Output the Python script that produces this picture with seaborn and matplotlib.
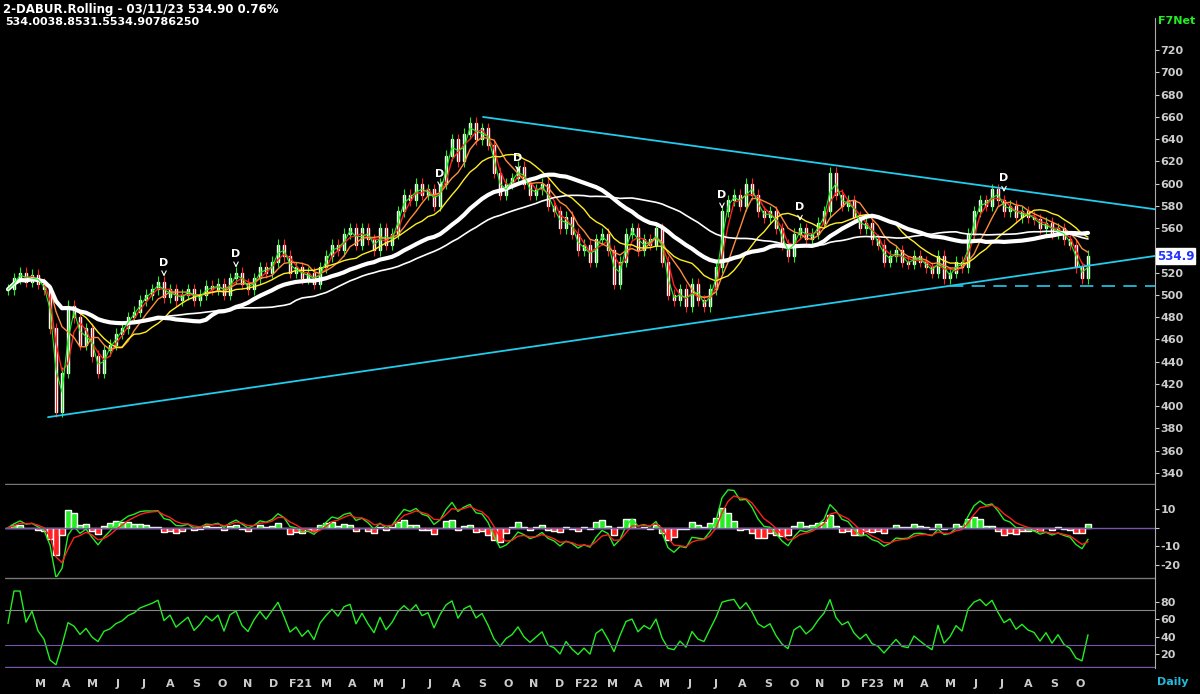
import numpy as np
import pandas as pd
import matplotlib
matplotlib.use("Agg")
import matplotlib.pyplot as plt
import seaborn as sns

sns.set_style("dark")
plt.rcParams["font.family"] = ["DejaVu Sans"]

# weekly closes (Mar 2020 .. Oct 2023)
closes = [
    505, 515, 520, 512, 518, 510, 505, 470, 395, 430,
    490, 480, 455, 470, 445, 430, 450, 455, 465, 470,
    480, 485, 495, 500, 505, 512, 498, 505, 495, 500,
    505, 495, 500, 508, 505, 510, 500, 515, 520, 510,
    505, 515, 525, 520, 530, 545, 535, 520, 525, 515,
    520, 510, 525, 535, 545, 540, 555, 560, 545, 560,
    550, 540, 560, 545, 555, 575, 590, 585, 600, 590,
    595, 580, 600, 625, 640, 620, 645, 655, 640, 650,
    635, 610, 590, 600, 605, 615, 600, 590, 595, 600,
    580, 575, 560, 570, 555, 540, 545, 530, 550, 555,
    540, 510, 530, 555, 560, 540, 550, 545, 560, 530,
    500, 495, 505, 490, 510, 495, 490, 505, 525, 575,
    585, 590, 580, 600, 590, 575, 570, 575, 560, 545,
    535, 555, 560, 550, 555, 565, 575, 610, 590, 580,
    585, 570, 560, 565, 550, 545, 530, 535, 540, 530,
    528, 535, 530, 525, 520, 535, 515, 520, 530, 525,
    555, 575, 585, 580, 595, 585, 575, 580, 570, 575,
    570, 568, 560, 565, 555, 560, 550, 545, 525, 515,
    535,
]
month_labels = ["M", "A", "M", "J", "J", "A", "S", "O", "N", "D",
                "F21", "M", "A", "M", "J", "J", "A", "S", "O", "N", "D",
                "F22", "M", "A", "M", "J", "J", "A", "S", "O", "N", "D",
                "F23", "M", "A", "M", "J", "J", "A", "S", "O"]
d_marks = [(26, 514), (38, 522), (72, 594), (85, 608), (119, 575), (132, 564), (166, 590)]
ma_specs = [(3, "#ff2020", 1.0), (6, "#ff8c3a", 1.0), (12, "#ffee22", 1.0),
            (26, "white", 3.0), (40, "white", 1.2)]

df = pd.DataFrame({"close": closes})
df["i"] = np.arange(len(df))
df["open"] = df["close"].shift(1).fillna(df["close"])

# x pixel -> index helper (index i sits at pixel 8 + 6 i)
px = lambda x: (x - 8) / 6.0

fig = plt.figure(figsize=(12, 6.94), dpi=100, facecolor="black")
W, H = 1200, 694
def box(x0, y0, x1, y1):
    return [x0 / W, 1 - y1 / H, (x1 - x0) / W, (y1 - y0) / H]

ax = fig.add_axes(box(5, 18, 1155, 485))
ax2 = fig.add_axes(box(5, 485, 1155, 577), sharex=ax)
ax3 = fig.add_axes(box(5, 577, 1155, 668), sharex=ax)

for a in (ax, ax2, ax3):
    a.set_facecolor("black")
    for s in a.spines.values():
        s.set_visible(False)
    a.spines["right"].set_visible(True)
    a.spines["right"].set_color("#aaaaaa")
    a.yaxis.tick_right()
    a.tick_params(axis="y", colors="#cccccc", labelsize=8, length=3, direction="out", pad=1)
    a.tick_params(axis="x", length=0)
    a.grid(False)

# candles
up = df["close"] >= df["open"]
cols = np.where(up, "#22ee22", "#ff2020")
lo = df[["open", "close"]].min(axis=1)
hi = df[["open", "close"]].max(axis=1)
ax.vlines(df["i"], lo - 5, hi + 5, colors=cols, lw=0.8)
ax.bar(df["i"], (hi - lo).clip(lower=1.5), bottom=lo, width=0.45, color=cols)

for n, c, lw in ma_specs:
    ma = df["close"].rolling(n, min_periods=1).mean()
    sns.lineplot(x=df["i"], y=ma, ax=ax, color=c, lw=lw)
ax.plot(df["i"], df["close"].rolling(2, min_periods=1).mean(), color="#22ee22", lw=0.8)

# trendlines
ax.plot([px(48), px(1155)], [390, 535], color="#22ccee", lw=1.3)
ax.plot([px(483), px(1155)], [660, 577], color="#22ccee", lw=1.3)
ax.plot([px(950), px(1155)], [508, 508], color="#22ccee", lw=1.2, ls=(0, (8, 5)))

for i, p in d_marks:
    ax.annotate("D", xy=(i, p), xytext=(i, p + 12), color="white", fontsize=8, fontweight="bold",
                ha="center", arrowprops=dict(arrowstyle="->", color="white", lw=0.8))

ax.set_ylim(329, 749)
ticks = list(range(340, 721, 20))
ax.set_yticks(ticks)
ax.set_yticklabels(["" if t == 540 else str(t) for t in ticks])
ax.set_xlim(px(5), px(1155))
ax.set_ylabel(""); ax.set_xlabel("")
ax.axhline(329.5, color="#777777", lw=1)
ax.text(1.0015, (534.9 - 329) / 420, "534.9", transform=ax.transAxes, color="#2233ff",
        fontsize=8.5, fontweight="bold", va="center", zorder=10,
        bbox=dict(boxstyle="square,pad=0.1", fc="white", ec="white"))

# MACD
ema_f = df["close"].ewm(span=3, adjust=False).mean()
ema_s = df["close"].ewm(span=6, adjust=False).mean()
macd = ema_f - ema_s
sig = macd.ewm(span=3, adjust=False).mean()
hist = macd - sig
ax2.bar(df["i"], hist * 1.3, width=0.9, color=np.where(hist >= 0, "#22ee22", "#ff2020"))
ax2.plot(df["i"], macd, color="#22ee22", lw=1)
ax2.plot(df["i"], sig, color="#ff2020", lw=1)
ax2.axhline(0, color="#7755aa", lw=1)
ax2.set_ylim(-26.5, 23)
ax2.set_yticks([10, 0, -10, -20])
ax2.set_yticklabels(["10", "", "-10", "-20"])

# RSI
delta = df["close"].diff().fillna(0)
gain = delta.clip(lower=0).ewm(alpha=1 / 5, adjust=False).mean()
loss = (-delta.clip(upper=0)).ewm(alpha=1 / 5, adjust=False).mean()
rsi = (100 - 100 / (1 + gain / loss.replace(0, 1e-9))).clip(8, 92)
rsi.iloc[0] = 55
ax3.plot(df["i"], rsi, color="#22ee22", lw=1)
ax3.axhline(107.3, color="#777777", lw=1)
ax3.axhline(70, color="#888888", lw=0.8)
ax3.axhline(30, color="#7755aa", lw=0.8)
ax3.axhline(5, color="#7755aa", lw=1)
ax3.set_ylim(4.3, 108)
ax3.set_yticks([20, 40, 60, 80])
ax3.set_xticks([px(40 + 26 * k) for k in range(len(month_labels))])
ax3.set_xticklabels(month_labels)
ax3.tick_params(axis="x", colors="#cccccc", labelsize=8, pad=8)
for t in ax3.get_xticklabels() + ax.get_yticklabels() + ax2.get_yticklabels() + ax3.get_yticklabels():
    t.set_fontweight("bold")
plt.setp(ax.get_xticklabels(), visible=False)
plt.setp(ax2.get_xticklabels(), visible=False)

fig.text(3 / W, 1 - 10 / H, "2-DABUR.Rolling - 03/11/23 534.90 0.76%", color="white",
         fontsize=8.5, fontweight="bold", va="center")
fig.text(5 / W, 1 - 22 / H, "534.0038.8531.5534.90786250", color="white",
         fontsize=8, fontweight="bold", va="center")
fig.text(1158 / W, 1 - 21 / H, "F7Net", color="#22ee22", fontsize=8, fontweight="bold", va="center")
fig.text(1157 / W, 1 - 682 / H, "Daily", color="#22bbdd", fontsize=8, fontweight="bold", va="center")

fig.savefig("out.png", dpi=100, facecolor="black")
